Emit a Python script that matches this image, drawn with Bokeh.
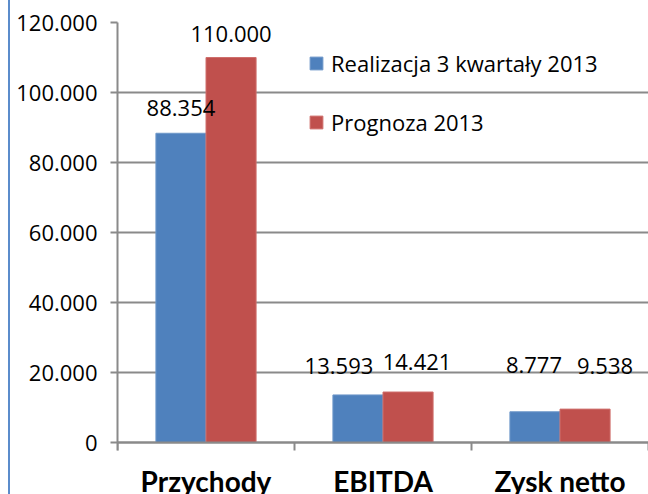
import numpy as np
from bokeh.plotting import figure
from bokeh.models import (Range1d, FixedTicker, ColumnDataSource, LabelSet,
                          Legend, LegendItem, Span)
from bokeh.core.properties import value
from bokeh.embed import file_html
from bokeh.resources import INLINE

# ---- data ----
categories = ["Przychody", "EBITDA", "Zysk netto"]
realizacja = [88354, 13593, 8777]
prognoza = [110000, 14421, 9538]
series_names = ["Realizacja 3 kwartały 2013", "Prognoza 2013"]
y_ticks = [0, 20000, 40000, 60000, 80000, 100000, 120000]

# ---- style / layout constants ----
BLUE = "#4F81BD"
RED = "#C0504D"
GRID = "#8a8a8a"
EDGE = "#5b8ccb"
FONT = "Open Sans"
CAT_FONT = "Lato"
BAR_W = 0.283
W, H = 648, 494
LEFT, TOP = 117, 22
PLOT_PX = 420          # pixels between value 0 and the top tick
BELOW_PX = H - TOP - PLOT_PX   # strip under the zero line (for names)
TICK_PX = 8
CAT_BASE_PX = 38       # anchor of category names below the zero line
# pixel nudges for the data labels (as the original spreads overlapping labels)
real_dx = [0, -19, -1]
real_dy = [25, 29, 47]
prog_dx = [0, 9, 20]
prog_dy = [24, 30, 43]


def fmt(v):
    return f"{v:,}".replace(",", ".")


unit = y_ticks[-1] / PLOT_PX     # data units per pixel
idx = np.arange(len(categories)) + 0.5
bounds = np.arange(len(categories) + 1)

src_r = ColumnDataSource(dict(x=idx - BAR_W / 2, top=realizacja,
                              lab=[fmt(v) for v in realizacja],
                              dx=real_dx, dy=real_dy))
src_p = ColumnDataSource(dict(x=idx + BAR_W / 2, top=prognoza,
                              lab=[fmt(v) for v in prognoza],
                              dx=prog_dx, dy=prog_dy))
src_c = ColumnDataSource(dict(x=idx, y=[-CAT_BASE_PX * unit] * len(categories),
                              name=categories))
src_t = ColumnDataSource(dict(x=bounds, y0=[0] * len(bounds),
                              y1=[-TICK_PX * unit] * len(bounds)))

p = figure(width=W, height=H, output_backend="svg", toolbar_location=None,
           x_range=Range1d(0, len(categories)),
           y_range=Range1d(-BELOW_PX * unit, y_ticks[-1]),
           x_axis_location=None,
           min_border_left=LEFT, min_border_right=0, min_border_top=TOP,
           min_border_bottom=0)
p.outline_line_color = None
p.background_fill_color = "white"
p.border_fill_color = None
p.styles = {"background": f"linear-gradient(to right, white 8px, {EDGE} 8px, "
                          f"{EDGE} 10px, white 10px)"}

r1 = p.vbar(x="x", top="top", width=BAR_W, bottom=0, source=src_r,
            fill_color=BLUE, line_color="#6f98c9", line_width=1)
r2 = p.vbar(x="x", top="top", width=BAR_W, bottom=0, source=src_p,
            fill_color=RED, line_color="#cf6f6c", line_width=1)

for src in (src_r, src_p):
    p.add_layout(LabelSet(x="x", y="top", text="lab", x_offset="dx", y_offset="dy",
                          source=src, text_align="center", text_baseline="middle",
                          text_font=value(FONT), text_font_size="22px",
                          text_color="black"))

# y axis (line limited to the value range plus the tick length)
yax = p.yaxis[0]
yax.ticker = FixedTicker(ticks=y_ticks)
yax.bounds = (-TICK_PX * unit, y_ticks[-1])
yax.major_label_overrides = {t: fmt(t) for t in y_ticks}
yax.major_label_text_font = FONT
yax.major_label_text_font_size = "22px"
yax.major_label_text_color = "black"
yax.axis_line_color = GRID
yax.axis_line_width = 2
yax.major_tick_line_color = GRID
yax.major_tick_line_width = 2
yax.major_tick_out = 7
yax.major_tick_in = 0
yax.minor_tick_line_color = None
yax.major_label_standoff = 13

# category axis: zero line, boundary ticks and names
p.add_layout(Span(location=0, dimension="width", line_color=GRID, line_width=2))
p.segment(x0="x", y0="y0", x1="x", y1="y1", source=src_t,
          line_color=GRID, line_width=2)
p.text(x="x", y="y", text="name", source=src_c, text_align="center",
       text_baseline="alphabetic", text_font=value(CAT_FONT),
       text_font_style="bold", text_font_size="28px", text_color="black")

p.xgrid.grid_line_color = None
p.ygrid.ticker = FixedTicker(ticks=y_ticks)
p.ygrid.grid_line_color = GRID
p.ygrid.grid_line_width = 2

legend = Legend(items=[LegendItem(label=series_names[0], renderers=[r1]),
                       LegendItem(label=series_names[1], renderers=[r2])],
                location=(191, 305 + BELOW_PX), orientation="vertical",
                label_text_font=FONT, label_text_font_size="22px",
                label_text_color="black", glyph_width=16, glyph_height=16,
                label_standoff=7, spacing=29, padding=0, margin=0,
                border_line_color=None, background_fill_alpha=0)
p.add_layout(legend)

open("out.html", "w").write(file_html(p, INLINE))
